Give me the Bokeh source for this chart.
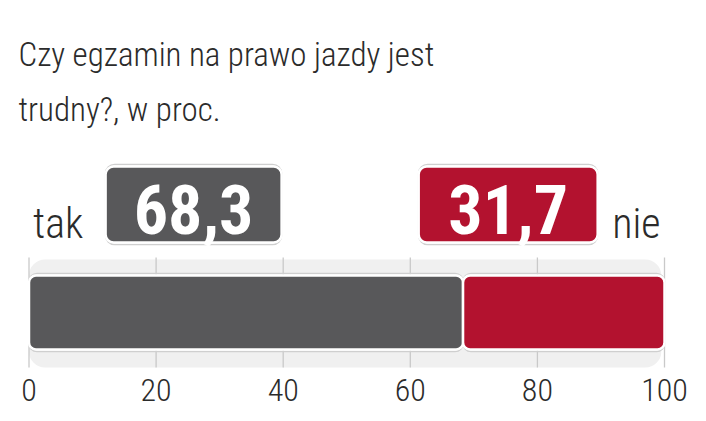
from bokeh.plotting import figure
from bokeh.models import Range1d, ColumnDataSource, FixedTicker, CustomJSTickFormatter
from bokeh.core.properties import value
from bokeh.embed import file_html
from bokeh.resources import INLINE

# ---- data ----
title_lines = ["Czy egzamin na prawo jazdy jest", "trudny?, w proc."]
categories = ["tak", "nie"]
values = [68.3, 31.7]
value_labels = ["68,3", "31,7"]
tick_values = [0, 20, 40, 60, 80, 100]
tick_labels = ["0", "20", "40", "60", "80", "100"]

# ---- style ----
GRAY = "#58585a"
RED = "#b3122f"
TXT = "#2b2b2b"
FONT = "Roboto Condensed Light"
BOLD = "Roboto Condensed"

W = 706
FRAME_H = 370
PX_PER_UNIT = 6.355
X0_PX = 28.5          # pixel position of value 0 inside the figure

x_start = -X0_PX / PX_PER_UNIT
x_end = (W - X0_PX) / PX_PER_UNIT

p = figure(frame_width=W, frame_height=FRAME_H, output_backend="svg", toolbar_location=None,
           x_range=Range1d(x_start, x_end), y_range=Range1d(FRAME_H, 0),
           min_border_left=0, min_border_right=0, min_border_top=0, min_border_bottom=48)
p.outline_line_color = None
p.background_fill_color = "white"
p.border_fill_color = "white"
p.grid.visible = False
p.yaxis.visible = False

ax = p.xaxis[0]
ax.ticker = FixedTicker(ticks=tick_values)
ax.formatter = CustomJSTickFormatter(args=dict(labels=dict(zip([str(t) for t in tick_values], tick_labels))),
                                     code="return labels[String(tick)] || String(tick);")
ax.axis_line_color = None
ax.major_tick_line_color = None
ax.minor_tick_line_color = None
ax.major_label_text_font = FONT
ax.major_label_text_font_size = "32px"
ax.major_label_text_color = TXT
ax.major_label_standoff = 2

def px(v):
    return v / PX_PER_UNIT

# title
p.text(x=[x_start + px(18)] * 2, y=[67, 122], text=title_lines, y_offset=-13,
       text_font=value(FONT), text_font_size="33px", text_color=TXT,
       text_baseline="alphabetic", text_align="left")

total = sum(values)
lefts = [0, values[0]]
rights = [values[0], total]
BAR_Y, BAR_H = 312, 74

# shadow band
p.hbar(y=[BAR_Y + 1], left=[0], right=[total - 0.5], height=108,
       fill_color="#f0f0f0", line_color=None, border_radius=16)

# grid segments
p.segment(x0=tick_values, x1=tick_values, y0=[257] * len(tick_values), y1=[367] * len(tick_values),
          line_color="#c9c9c9", line_width=1.3)

# bars
src = ColumnDataSource(dict(left=lefts, right=rights, color=[GRAY, RED]))
p.hbar(y=BAR_Y, left="left", right="right", height=BAR_H + 4, source=src,
       fill_color=None, line_color="#cfcfcf", line_width=1.5, border_radius=8)
p.hbar(y=BAR_Y, left="left", right="right", height=BAR_H, source=src,
       fill_color="color", line_color="white", line_width=2.5, border_radius=7)

# value boxes
box_x = [25.9, 75.4]
box_w = [176, 179]
bsrc = ColumnDataSource(dict(x=box_x, w=box_w, color=[GRAY, RED], label=value_labels))
p.rect(x="x", y=204, width="w", height=80, width_units="screen", source=bsrc,
       fill_color=None, line_color="#cfcfcf", line_width=1.5, border_radius=9)
p.rect(x="x", y=204, width="w", height=76, width_units="screen", source=bsrc,
       fill_color="color", line_color="white", line_width=2.5, border_radius=8)
p.text(x="x", y=230, text="label", source=bsrc, y_offset=-21,
       text_font=value(BOLD), text_font_style="bold",
       text_font_size="68px", text_color="white", text_align="center", text_baseline="alphabetic")

# category labels
p.text(x=[0, total], y=[239, 239], text=categories, x_offset=[4, -4], y_offset=-16,
       text_align=["left", "right"], text_font=value(FONT), text_font_size="42px",
       text_color=TXT, text_baseline="alphabetic")

open("out.html", "w").write(file_html(p, INLINE))
